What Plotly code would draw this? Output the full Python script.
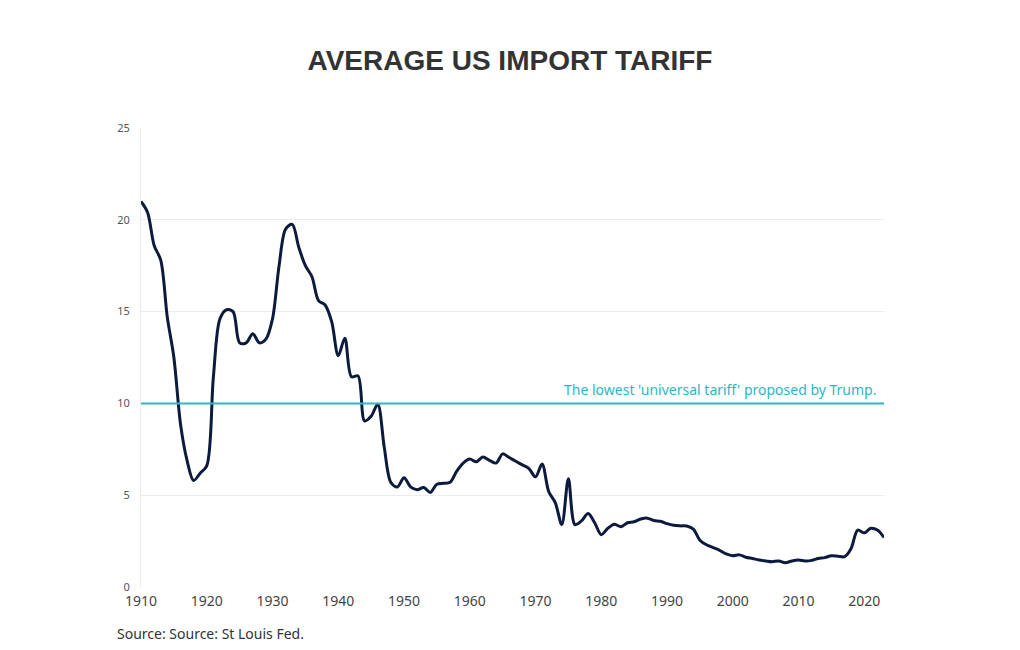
import plotly.graph_objects as go

years = list(range(1910, 2024))
tariff = [
    21.0, 20.4, 18.6, 17.8, 14.7, 12.5, 8.9, 6.9, 5.8, 6.2,   # 1910-1919
    6.6, 11.4, 14.6, 15.1, 15.0, 13.3, 13.3, 13.8, 13.3, 13.5,  # 1920-1929
    14.6, 17.5, 19.5, 19.75, 18.5, 17.5, 16.9, 15.6, 15.36, 14.45,  # 1930-1939
    12.6, 13.55, 11.45, 11.5, 9.05, 9.3, 9.95, 7.6, 5.7, 5.45,  # 1940-1949
    5.95, 5.45, 5.3, 5.42, 5.15, 5.6, 5.65, 5.7, 6.3, 6.75,  # 1950-1959
    6.97, 6.82, 7.08, 6.9, 6.75, 7.25, 7.05, 6.85, 6.65, 6.45,  # 1960-1969
    6.0, 6.7, 5.2, 4.6, 3.4, 5.9, 3.4, 3.6, 4.0, 3.5,  # 1970-1979
    2.85, 3.2, 3.42, 3.28, 3.5, 3.55, 3.7, 3.75, 3.62, 3.58,  # 1980-1989
    3.45, 3.36, 3.33, 3.32, 3.15, 2.55, 2.3, 2.15, 2.0, 1.8,  # 1990-1999
    1.7, 1.75, 1.62, 1.55, 1.47, 1.42, 1.38, 1.42, 1.32, 1.42,  # 2000-2009
    1.47, 1.42, 1.45, 1.55, 1.6, 1.7, 1.68, 1.65, 2.1, 3.1,  # 2010-2019
    2.95, 3.2, 3.1, 2.7,  # 2020-2023
]
x_ticks = [1910, 1920, 1930, 1940, 1950, 1960, 1970, 1980, 1990, 2000, 2010, 2020]
y_ticks = [0, 5, 10, 15, 20, 25]
proposed_tariff = 10
title_text = "AVERAGE US IMPORT TARIFF"
annotation_text = "The lowest 'universal tariff' proposed by Trump."
source_text = "Source: Source: St Louis Fed."

fig = go.Figure()
fig.add_trace(go.Scatter(
    x=years, y=tariff, mode="lines",
    line=dict(color="#0b1a3d", width=3, shape="spline", smoothing=0.9),
    showlegend=False, hoverinfo="x+y",
))
fig.add_hline(y=proposed_tariff, line=dict(color="#2bb7c6", width=2))
fig.add_annotation(
    x=years[-1], y=proposed_tariff, xref="x", yref="y",
    text=annotation_text, showarrow=False,
    xanchor="right", yanchor="bottom", xshift=-6, yshift=2,
    font=dict(family="Noto Sans, sans-serif", size=14, color="#2bb7c6"),
)
fig.add_annotation(
    x=0, y=0, xref="paper", yref="paper", xanchor="left", yanchor="top",
    xshift=-26, yshift=-35,
    text=source_text, showarrow=False,
    font=dict(family="Noto Sans, sans-serif", size=14, color="#333333"),
)

fig.update_layout(
    width=1004, height=634,
    paper_bgcolor="white", plot_bgcolor="white",
    margin=dict(l=133, r=128, t=120, b=55),
    title=dict(text=f"<b>{title_text}</b>", x=0.5, xanchor="center", y=0.918, yanchor="middle",
               font=dict(family="Liberation Sans, Arial, sans-serif", size=28, color="#333333")),
    xaxis=dict(range=[1910, 2023], tickvals=x_ticks, showgrid=False, zeroline=False,
               showline=False, ticks="", ticklabelstandoff=4,
               tickfont=dict(family="Noto Sans, sans-serif", size=14, color="#444444")),
    yaxis=dict(range=[0, 25], tickvals=y_ticks, showgrid=True, gridcolor="#ececec", gridwidth=1,
               zeroline=False, showline=True, linecolor="#ececec", linewidth=1, ticks="",
               ticklabelstandoff=8,
               tickfont=dict(family="Noto Sans, sans-serif", size=11, color="#555555")),
)

fig.write_html("out.html")
